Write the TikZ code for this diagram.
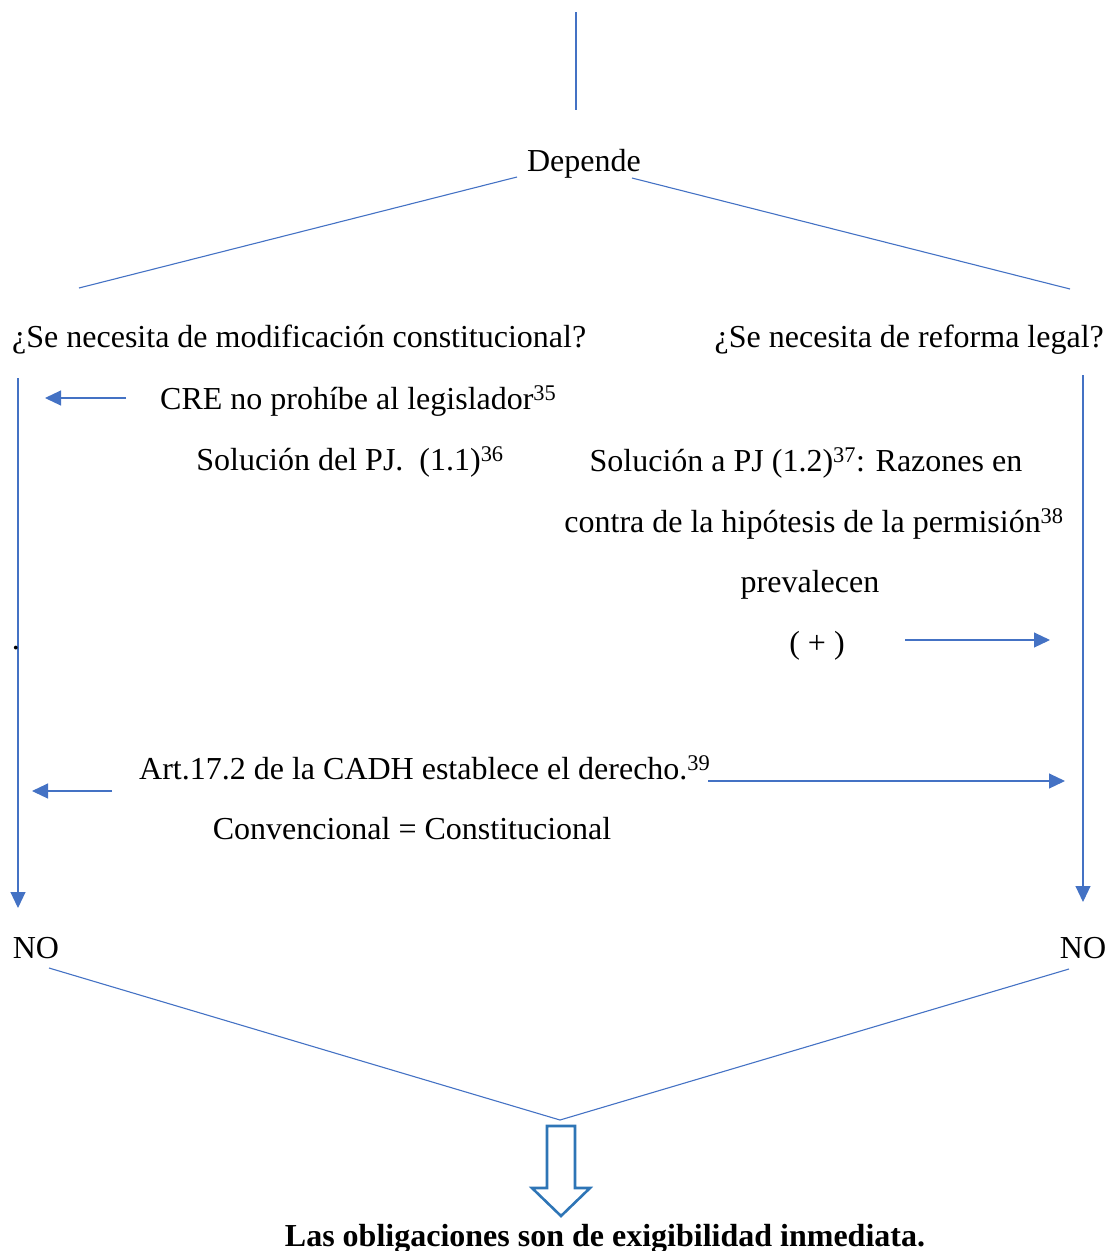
\documentclass[tikz,border=0pt]{standalone}
\usepackage{fontspec}
\setmainfont{Liberation Serif}
\usetikzlibrary{arrows.meta,positioning,calc}
\tikzset{
    % Colors
    line color/.style={color={rgb,255:red,68;green,114;blue,196}},
    block arrow color/.style={color={rgb,255:red,46;green,117;blue,182}},
    %
    % Lines
    link/.style={line color,line width=1.1pt},
    %
    % Arrows
    arrow tip/.tip={Triangle[length=16pt,width=15pt]},
    arr/.style={link,-{arrow tip}},
    %
    % Texts
    label text/.style={inner sep=0pt,yshift=-3pt,font=\fontsize{32}{38}\selectfont},
}
\begin{document}
\begin{tikzpicture}[x=1pt,y=-1pt]
    \useasboundingbox (0,0) rectangle (1109,1251);
    % top
    \coordinate (top) at (576,12);
    \coordinate (top end) at (576,110);
    \draw[link] (top) -- (top end);
    \node[label text] (depende) at (584,161) {Depende};
    \coordinate (split left) at (79,288);
    \coordinate (split right) at (1070,289);
    \draw[link] (517,177) -- (split left);
    \draw[link] (632,178) -- (split right);
    %
    % two questions
    \node[label text,anchor=west] (q const) at (12,337) {¿Se necesita de modificación constitucional?};
    \node[label text,anchor=east] (q legal) at (1104,337) {¿Se necesita de reforma legal?};
    %
    % left column
    \coordinate (left top) at (18,378);
    \coordinate (left bottom) at (18,908);
    \draw[arr] (left top) -- (left bottom);
    \node[label text,anchor=west] (cre) at (160,398) {CRE no prohíbe al legislador\textsuperscript{35}};
    \draw[arr] (126,398) -- (45,398);
    \node[label text] (sol pj) at (350,459) {Solución del PJ.\ \ (1.1)\textsuperscript{36}};
    \node[label text] (dot) at (16,645) {.};
    \node[label text,anchor=west] (art) at (139,765) {Art.17.2 de la CADH establece el derecho.\textsuperscript{39}};
    \draw[arr] (112,791) -- (32,791);
    \draw[arr] (708,781) -- (1065,781);
    \node[label text] (conv) at (412,826) {Convencional = Constitucional};
    %
    % right column
    \coordinate (right top) at (1083,375);
    \coordinate (right bottom) at (1083,902);
    \draw[arr] (right top) -- (right bottom);
    \node[label text] (sol a) at (806,460) {Solución a PJ (1.2)\textsuperscript{37}: Razones en};
    \node[label text] (contra) at (814,521) {contra de la hipótesis de la permisión\textsuperscript{38}};
    \node[label text] (prev) at (810,582) {prevalecen};
    \node[label text] (plus) at (817,643) {( + )};
    \draw[arr] (905,640) -- (1050,640);
    %
    % conclusion
    \node[label text] (no left) at (36,945) {NO};
    \node[label text] (no right) at (1083,945) {NO};
    \coordinate (meet) at (560,1120);
    \draw[link] (49,968) -- (meet) -- (1069,969);
    \draw[block arrow color,line width=2.6pt,line join=miter]
        (547,1126) -- (575,1126) -- (575,1188) -- (590,1188) -- (561,1216)
        -- (532,1188) -- (547,1188) -- cycle;
    \node[label text,font=\fontsize{32}{38}\selectfont\bfseries] (result) at (605,1236) {Las obligaciones son de exigibilidad inmediata.};
\end{tikzpicture}
\end{document}
